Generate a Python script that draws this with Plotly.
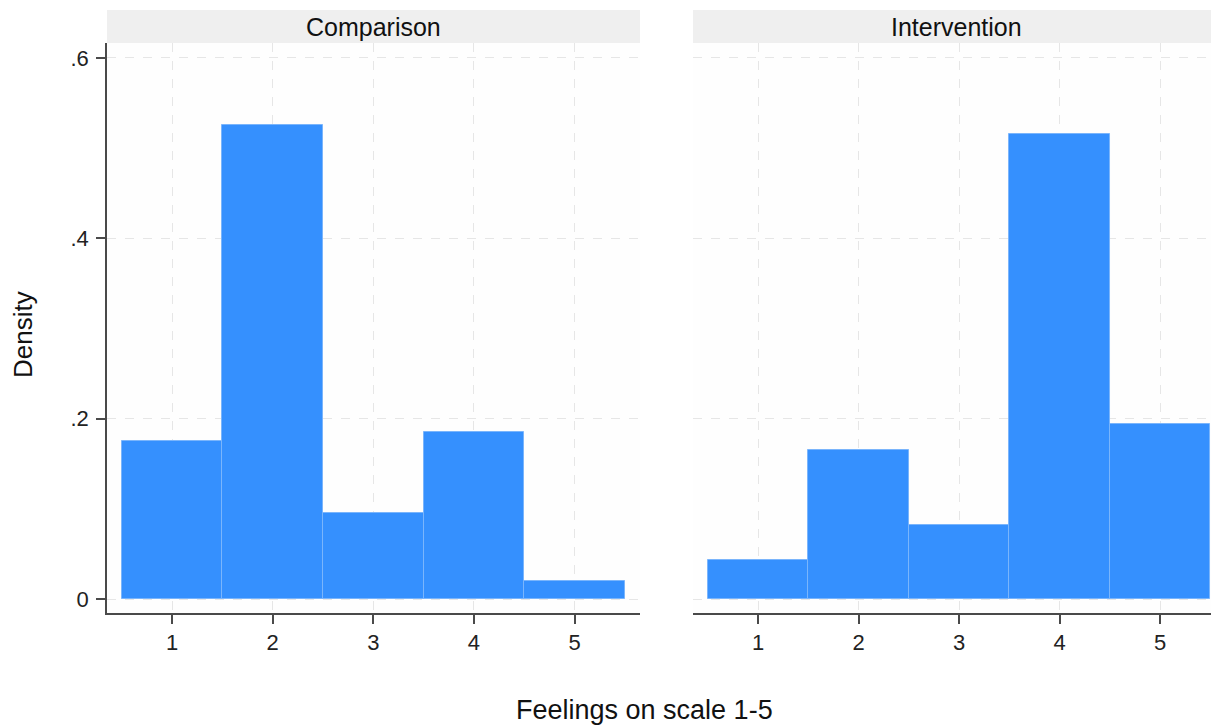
import plotly.graph_objects as go

# density per feelings score
scores = [1, 2, 3, 4, 5]
comparison = [0.175, 0.526, 0.095, 0.185, 0.020]
intervention = [0.043, 0.165, 0.082, 0.516, 0.194]
panels = ["Comparison", "Intervention"]
ytick_vals = [0, 0.2, 0.4, 0.6]
ytick_text = ["0", ".2", ".4", ".6"]

bar_color = "#3590fe"
edge_color = "#7ab5fc"
axis_color = "#4a4a4a"
grid_color = "#e6e6e6"
font = "Liberation Sans, Arial, sans-serif"

fig = go.Figure()
fig.add_trace(go.Bar(x=scores, y=comparison, width=1, xaxis="x", yaxis="y",
                     marker=dict(color=bar_color, line=dict(color=edge_color, width=1)),
                     showlegend=False))
fig.add_trace(go.Bar(x=scores, y=intervention, width=1, xaxis="x2", yaxis="y2",
                     marker=dict(color=bar_color, line=dict(color=edge_color, width=1)),
                     showlegend=False))

xcommon = dict(tickvals=scores, ticks="outside", ticklen=9, tickwidth=1.5,
               tickcolor=axis_color, showline=True, linecolor=axis_color, linewidth=1.5,
               showgrid=True, gridcolor=grid_color, griddash="dash", gridwidth=1,
               zeroline=False, ticklabelstandoff=0,
               tickfont=dict(size=22, color="#222"))
yrange = [-0.0155, 0.6166]

# the page has an 8px body margin, so the figure is shifted by 8px
fig.update_layout(
    width=1211, height=720,
    margin=dict(l=99, r=0, t=35, b=115),
    paper_bgcolor="white", plot_bgcolor="#fefefe",
    font=dict(family=font, color="#222"),
    bargap=0,
    xaxis=dict(domain=[0, 0.4793], range=[0.354, 5.65], anchor="y", **xcommon),
    xaxis2=dict(domain=[0.527, 1], range=[0.353, 5.587], anchor="y2", **xcommon),
    yaxis=dict(range=yrange, tickvals=ytick_vals, ticktext=ytick_text, ticks="outside",
               ticklen=9, tickwidth=1.5, tickcolor=axis_color, showline=True,
               linecolor=axis_color, linewidth=1.5, showgrid=True, gridcolor=grid_color,
               griddash="dash", zeroline=False, ticklabelstandoff=3,
               tickfont=dict(size=22, color="#222"), anchor="x"),
    yaxis2=dict(range=yrange, tickvals=ytick_vals, showticklabels=False, ticks="",
                showline=False, showgrid=True, gridcolor=grid_color, griddash="dash",
                zeroline=False, anchor="x2"),
)

# panel headers
for xref, name in zip(["x domain", "x2 domain"], panels):
    fig.add_shape(type="rect", xref=xref, yref="paper", x0=0, x1=1, y0=1, y1=1 + 33 / 570,
                  fillcolor="#efefef", line=dict(width=0), layer="below")
    fig.add_annotation(xref=xref, yref="paper", x=0.5, y=1 + 16.5 / 570, text=name,
                       showarrow=False, font=dict(size=25, color="#111"),
                       xanchor="center", yanchor="middle")

fig.add_annotation(xref="paper", yref="paper", x=0.483, y=-0.170,
                   text="Feelings on scale 1-5", showarrow=False,
                   font=dict(size=27, color="#111"), xanchor="center", yanchor="middle")
fig.add_annotation(xref="paper", yref="paper", x=-0.0755, y=0.4877, text="Density",
                   textangle=-90, showarrow=False, font=dict(size=26, color="#111"),
                   xanchor="center", yanchor="middle", borderpad=0)

fig.write_html("out.html")
